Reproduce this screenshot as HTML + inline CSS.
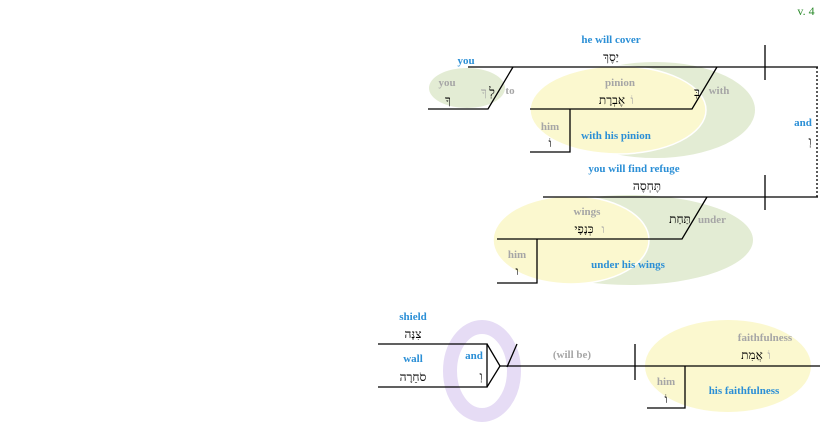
<!DOCTYPE html>
<html><head><meta charset="utf-8"><style>
html,body{margin:0;padding:0;background:#fff;width:825px;height:427px;overflow:hidden}
svg text{font-family:"Liberation Serif","Noto Serif CJK SC",serif;font-size:11px;font-weight:bold;text-anchor:middle}
.b{fill:#2b8fd6}.g{fill:#a6a6a6}.h{fill:#000;font-weight:normal;font-size:12px}
.gh{fill:#a6a6a6;font-weight:normal;font-size:12px}
</style></head><body>
<svg width="825" height="427" viewBox="0 0 825 427" xmlns="http://www.w3.org/2000/svg">
<text x="806" y="15" style="fill:#2a8a2a;font-weight:normal;font-size:12px">v. 4</text>
<ellipse cx="467" cy="88" rx="38" ry="20" fill="#e3ecd4"/>
<ellipse cx="655" cy="110" rx="100" ry="48" fill="#e3ecd4"/>
<ellipse cx="618" cy="110" rx="88" ry="44" fill="#fbf8cf" stroke="#fff" stroke-width="1.5"/>
<ellipse cx="630" cy="240" rx="123" ry="45" fill="#e3ecd4"/>
<ellipse cx="571" cy="240" rx="78" ry="44" fill="#fbf8cf" stroke="#fff" stroke-width="1.5"/>
<ellipse cx="728" cy="366" rx="83" ry="46" fill="#fbf8cf"/>
<ellipse cx="482" cy="371" rx="32" ry="44" fill="none" stroke="#e6dcf5" stroke-width="14"/>
<g stroke="#000" stroke-width="1.3" fill="none">
<line x1="468" y1="67" x2="818" y2="67"/>
<line x1="765" y1="45" x2="765" y2="80"/>
<line x1="817" y1="67" x2="817" y2="197" stroke-dasharray="2,2"/>
<polyline points="513,67 488,109 428,109"/>
<polyline points="717,67 692,109 530,109"/>
<polyline points="570,109 570,152 530,152"/>
<line x1="543" y1="197" x2="818" y2="197"/>
<line x1="765" y1="175" x2="765" y2="210"/>
<polyline points="707,197 682,239 497,239"/>
<polyline points="537,239 537,283 497,283"/>
<polyline points="378,344 487,344 487,387 378,387"/>
<polyline points="487,344 500,366 487,387"/>
<line x1="500" y1="366" x2="820" y2="366"/>
<line x1="507" y1="367" x2="517" y2="344"/>
<line x1="635" y1="344" x2="635" y2="380"/>
<polyline points="685,366 685,408 647,408"/>
</g>
<text x="611" y="43" class="b">he will cover</text>
<text x="611" y="61" class="h">יַסֶךְ</text>
<text x="466" y="64" class="b">you</text>
<text x="447" y="86" class="g">you</text>
<text x="448" y="104" class="h">ךָ</text>
<text x="484" y="96" class="gh">ךָ</text>
<text x="492" y="96" class="h">לְ</text>
<text x="510" y="94" class="g">to</text>
<text x="620" y="86" class="g">pinion</text>
<text x="612" y="104" class="h">אֶבְרָת</text>
<text x="632" y="104" class="gh">וֹ</text>
<text x="697" y="96" class="h">בְּ</text>
<text x="719" y="94" class="g">with</text>
<text x="550" y="130" class="g">him</text>
<text x="550" y="147" class="h">וֹ</text>
<text x="616" y="139" class="b">with his pinion</text>
<text x="803" y="126" class="b">and</text>
<text x="810" y="145" class="h">וְ</text>
<text x="634" y="172" class="b">you will find refuge</text>
<text x="647" y="190" class="h">תֶּחְסֶה</text>
<text x="587" y="215" class="g">wings</text>
<text x="584" y="233" class="h">כְּנָפָי</text>
<text x="603" y="233" class="gh">ו</text>
<text x="680" y="223" class="h">תַּחַת</text>
<text x="712" y="223" class="g">under</text>
<text x="517" y="258" class="g">him</text>
<text x="517" y="275" class="h">ו</text>
<text x="628" y="268" class="b">under his wings</text>
<text x="413" y="320" class="b">shield</text>
<text x="413" y="338" class="h">צִנָּה</text>
<text x="413" y="362" class="b">wall</text>
<text x="413" y="381" class="h">סֹחֵרָה</text>
<text x="474" y="359" class="b">and</text>
<text x="481" y="380" class="h">וְ</text>
<text x="572" y="358" class="g">(will be)</text>
<text x="765" y="341" class="g">faithfulness</text>
<text x="752" y="359" class="h">אֲמִת</text>
<text x="769" y="359" class="gh">וֹ</text>
<text x="666" y="385" class="g">him</text>
<text x="666" y="403" class="h">וֹ</text>
<text x="744" y="394" class="b">his faithfulness</text>
</svg>
</body></html>
